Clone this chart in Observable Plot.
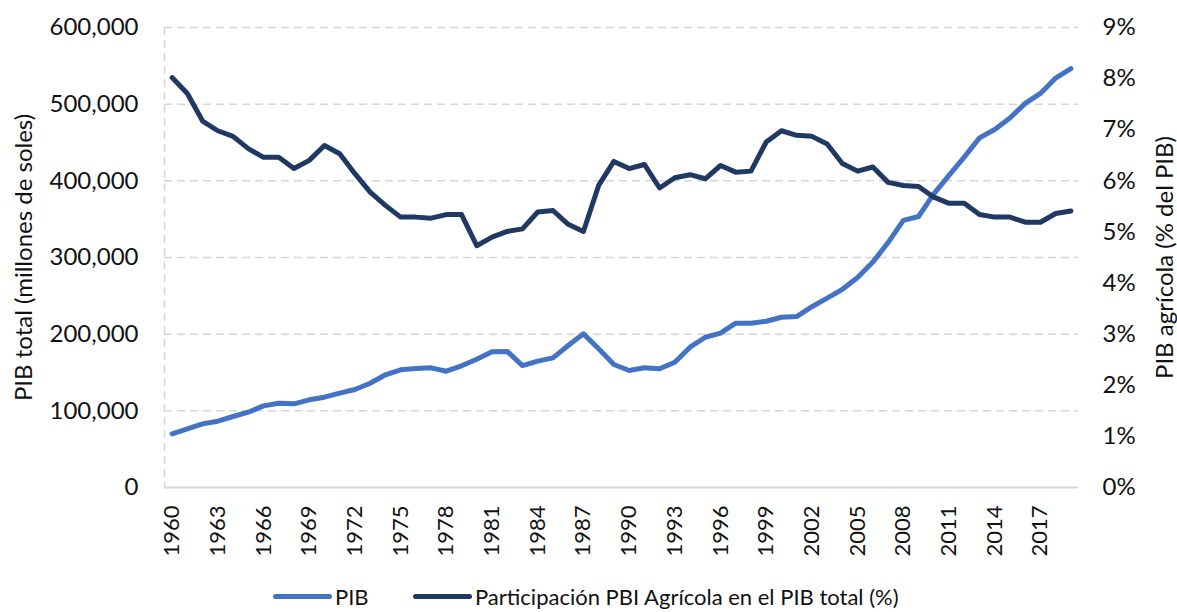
<!DOCTYPE html>
<html>
<head>
<meta charset="utf-8">
<script src="https://cdn.jsdelivr.net/npm/d3@7"></script>
<script src="https://cdn.jsdelivr.net/npm/@observablehq/plot@0.6"></script>
<style>
  html, body { margin: 0; padding: 0; background: #fff; }
  body { width: 1177px; height: 612px; overflow: hidden; font-family: Lato, "Open Sans", sans-serif; }
  #legend { position: relative; height: 32px; }
  .sw { position: absolute; top: 14px; width: 59px; height: 5px; border-radius: 3px; }
  .lt { position: absolute; top: 1px; font-size: 22px; line-height: 32px; color: #111; white-space: nowrap; }
</style>
</head>
<body>
<div id="chart"></div>
<div id="legend"></div>
<script>
const years = d3.range(1960, 2020);
const pib = [70000, 76500, 83000, 86500, 92600, 98200, 106500, 110000, 109100, 114400,
  117800, 123000, 127800, 136000, 147000, 153500, 155200, 156100, 151700, 158700,
  167300, 177000, 177500, 159000, 164800, 169100, 185200, 200400, 180900, 160400,
  152600, 156100, 154800, 163400, 183000, 196000, 201300, 214300, 214300, 216900,
  222100, 223000, 235800, 247000, 258500, 274000, 294000, 319500, 348500, 353500,
  383000, 407000, 431000, 456000, 467000, 482000, 501000, 514000, 534000, 546500];
const shareAgro = [8.02, 7.71, 7.17, 6.98, 6.87, 6.63, 6.46, 6.46, 6.24, 6.40,
  6.69, 6.53, 6.14, 5.78, 5.52, 5.29, 5.29, 5.27, 5.34, 5.34,
  4.73, 4.90, 5.01, 5.06, 5.39, 5.42, 5.15, 5.01, 5.91, 6.38,
  6.24, 6.32, 5.86, 6.06, 6.12, 6.04, 6.30, 6.17, 6.19, 6.76,
  6.98, 6.89, 6.87, 6.72, 6.34, 6.19, 6.27, 5.97, 5.91, 5.89,
  5.68, 5.56, 5.56, 5.34, 5.29, 5.29, 5.19, 5.19, 5.36, 5.41];
const xTicks = d3.range(1960, 2018, 3);
const leftTicks = [0, 100000, 200000, 300000, 400000, 500000, 600000];
const rightTicks = [0, 1, 2, 3, 4, 5, 6, 7, 8, 9];
const seriesNames = ["PIB", "Participación PBI Agrícola en el PIB total (%)"];
const colors = ["#4472c4", "#203864"];
const leftTitle = "PIB total (millones de soles)";
const rightTitle = "PIB agrícola (% del PIB)";

const yMax = 600000, rMax = 9;
const toLeft = p => p / rMax * yMax;

const pibData = years.map((y, i) => ({year: y, v: pib[i]}));
const shareData = years.map((y, i) => ({year: y, v: toLeft(shareAgro[i])}));

const chart = Plot.plot({
  width: 1177,
  height: 580,
  marginTop: 27,
  marginBottom: 93,
  marginLeft: 164,
  marginRight: 99,
  style: {fontFamily: "Lato, 'Open Sans', sans-serif", fontSize: "22px", color: "#111", background: "#fff"},
  x: {domain: [1959.5, 2019.5]},
  y: {domain: [0, yMax]},
  marks: [
    Plot.gridY(leftTicks.filter(d => d > 0), {stroke: "#d6d6d6", strokeOpacity: 1, strokeWidth: 1.5, strokeDasharray: "8,5"}),
    Plot.ruleX([1959.5], {stroke: "#d6d6d6", strokeWidth: 1.5, strokeDasharray: "8,5"}),
    Plot.ruleY([0], {stroke: "#d6d6d6", strokeWidth: 2}),
    Plot.axisY({anchor: "left", ticks: leftTicks, tickSize: 0, tickPadding: 26,
      tickFormat: d => d === 0 ? "0" : d3.format(",")(d), fontSize: 24,
      label: leftTitle, labelAnchor: "center", labelArrow: "none", labelOffset: 150}),
    Plot.axisY({anchor: "right", ticks: rightTicks.map(toLeft), tickSize: 0, tickPadding: 24,
      tickFormat: d => Math.round(d / yMax * rMax) + "%", fontSize: 24,
      label: rightTitle, labelAnchor: "center", labelArrow: "none", labelOffset: 94}),
    Plot.axisX({ticks: xTicks, tickSize: 0, tickPadding: 18, tickRotate: -90, tickFormat: d => String(d), fontSize: 22, label: null}),
    Plot.line(pibData, {x: "year", y: "v", stroke: colors[0], strokeWidth: 5, strokeLinejoin: "round", strokeLinecap: "round"}),
    Plot.line(shareData, {x: "year", y: "v", stroke: colors[1], strokeWidth: 5, strokeLinejoin: "round", strokeLinecap: "round"})
  ]
});
document.getElementById("chart").appendChild(chart);

const legend = document.getElementById("legend");
const layout = [{sw: 273, tx: 335}, {sw: 413, tx: 475}];
seriesNames.forEach((name, i) => {
  const s = document.createElement("div");
  s.className = "sw"; s.style.left = layout[i].sw + "px"; s.style.background = colors[i];
  const t = document.createElement("div");
  t.className = "lt"; t.style.left = layout[i].tx + "px"; t.textContent = name;
  legend.appendChild(s); legend.appendChild(t);
});
</script>
</body>
</html>
